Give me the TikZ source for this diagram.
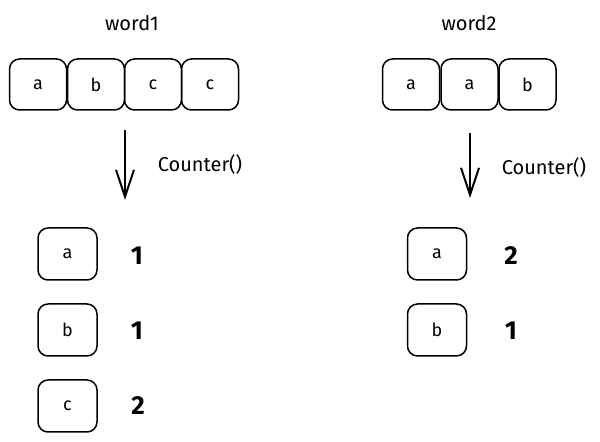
\documentclass[tikz,border=0pt]{standalone}
\usepackage{fontspec}
\setmainfont{Fira Sans}
\usetikzlibrary{arrows.meta, positioning}

\begin{document}
\begin{tikzpicture}[x=0.5pt, y=-0.5pt, >={Straight Barb[length=13.5pt, width=9pt]},
  cell/.style={draw, rounded corners=5pt, line width=0.75pt, minimum width=28.5pt,
    minimum height=25.5pt, inner sep=0pt, font=\fontsize{9}{10}\selectfont},
  key/.style={cell, minimum width=29.5pt, minimum height=26pt},
  count/.style={font=\fontsize{13}{15}\selectfont\bfseries},
  title/.style={font=\fontsize{10}{12}\selectfont},
  flow/.style={->, line width=1pt}]
  \useasboundingbox (0,0) rectangle (600,442);

  % Titles
  \node[title] (w1) at (132,23) {word1};
  \node[title] (w2) at (469,23) {word2};

  % Letters of word1
  \node[cell] (l1) at (38,84.5)  {a};
  \node[cell] (l2) at (96,84.5)  {b};
  \node[cell] (l3) at (153,84.5) {c};
  \node[cell] (l4) at (210,84.5) {c};

  % Letters of word2
  \node[cell] (r1) at (411,84.5)   {a};
  \node[cell] (r2) at (469.5,84.5) {a};
  \node[cell] (r3) at (527.5,84.5) {b};

  % Counter() arrows
  \coordinate (s1) at (125,130);
  \coordinate (t1) at (125,200);
  \coordinate (s2) at (470,133);
  \coordinate (t2) at (470,198);
  \draw[flow] (s1) -- (t1);
  \draw[flow] (s2) -- (t2);
  \node[title] (c1) at (200,165) {Counter()};
  \node[title] (c2) at (544,168) {Counter()};

  % Counts for word1
  \node[key] (ka) at (67.5,254) {a};
  \node[key] (kb) at (67.5,330) {b};
  \node[key] (kc) at (67.5,406) {c};
  \node[count] (na) at (137,256) {1};
  \node[count] (nb) at (137,331) {1};
  \node[count] (nc) at (138,406) {2};

  % Counts for word2
  \node[key] (ja) at (437,254) {a};
  \node[key] (jb) at (437,330) {b};
  \node[count] (ma) at (511,256) {2};
  \node[count] (mb) at (511,331) {1};
\end{tikzpicture}
\end{document}
